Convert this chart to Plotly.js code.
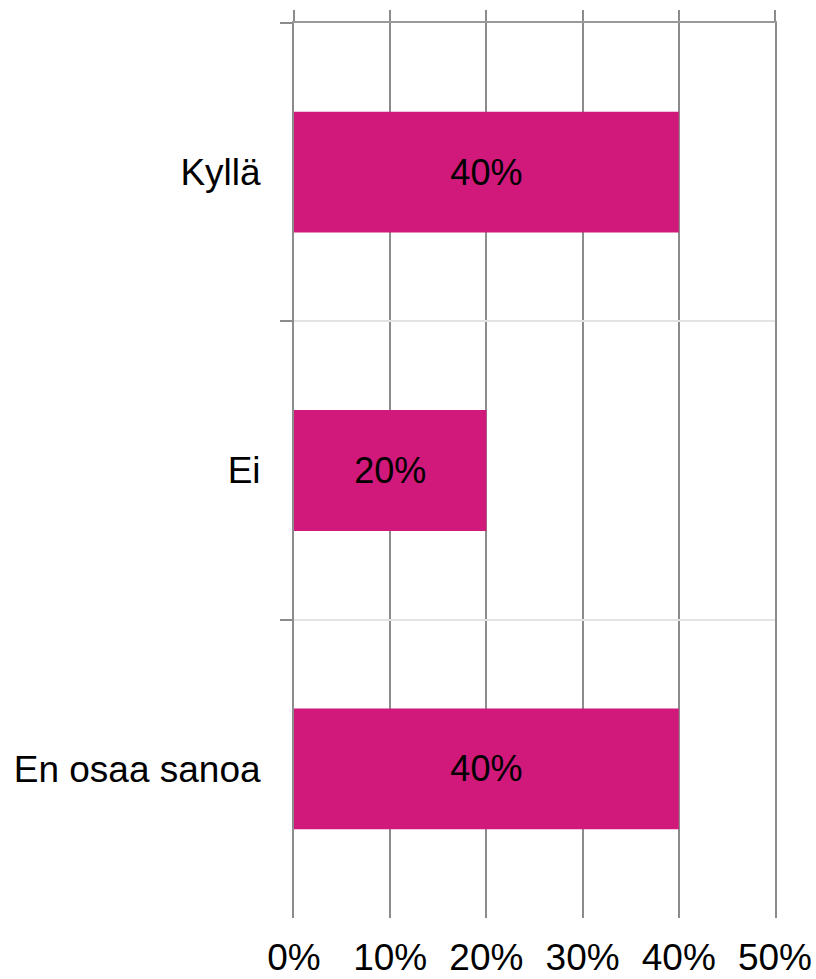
<!DOCTYPE html>
<html>
<head>
<meta charset="utf-8">
<script src="https://cdn.plot.ly/plotly-3.0.1.min.js"></script>
<style>html,body{margin:0;padding:0;background:#fff}#chart{width:816px;height:979px}</style>
</head>
<body>
<div id="chart"></div>
<script>
const categories = ["Kyllä", "Ei", "En osaa sanoa"];
const values = [0.40, 0.20, 0.40];
const xTickVals = [0, 0.1, 0.2, 0.3, 0.4, 0.5];

const font = "Liberation Sans, Arial, sans-serif";

const data = [{
  type: "bar",
  orientation: "h",
  y: categories,
  x: values,
  marker: {color: "#D0197B"},
  texttemplate: "%{x:.0%}",
  textposition: "inside",
  insidetextanchor: "middle",
  textfont: {family: font, size: 36, color: "#000"},
  hoverinfo: "none"
}, {
  type: "scatter",
  mode: "markers",
  y: categories,
  x: values,
  xaxis: "x2",
  marker: {opacity: 0},
  hoverinfo: "none",
  showlegend: false
}];

const layout = {
  width: 816, height: 979,
  margin: {l: 294, r: 41, t: 23, b: 61},
  paper_bgcolor: "#fff", plot_bgcolor: "#fff",
  showlegend: false,
  bargap: 0.595,
  font: {family: font, size: 37, color: "#000"},
  xaxis: {
    range: [0, 0.5],
    tickvals: xTickVals,
    tickformat: ".0%",
    showgrid: true, gridcolor: "#8c8c8c", gridwidth: 2,
    zeroline: false,
    showline: false,
    ticks: "",
    tickfont: {family: font, size: 37, color: "#000"},
    ticklabelstandoff: 14,
    fixedrange: true
  },
  xaxis2: {
    overlaying: "x",
    side: "top",
    range: [0, 0.5],
    tickvals: xTickVals,
    showticklabels: false,
    ticks: "outside", ticklen: 11, tickwidth: 2, tickcolor: "#8c8c8c",
    showgrid: false, zeroline: false,
    showline: true, linecolor: "#999", linewidth: 2,
    fixedrange: true
  },
  yaxis: {
    type: "category",
    autorange: "reversed",
    tickson: "boundaries",
    ticks: "outside", ticklen: 12, tickwidth: 2, tickcolor: "#8c8c8c",
    showgrid: true, gridcolor: "#e3e3e3", gridwidth: 2,
    showline: true, linecolor: "#8c8c8c", linewidth: 2, mirror: true,
    zeroline: false,
    tickfont: {family: font, size: 37, color: "#000"},
    ticklabelstandoff: 24,
    fixedrange: true
  }
};

Plotly.newPlot("chart", data, layout, {displayModeBar: false, staticPlot: true});
</script>
</body>
</html>
